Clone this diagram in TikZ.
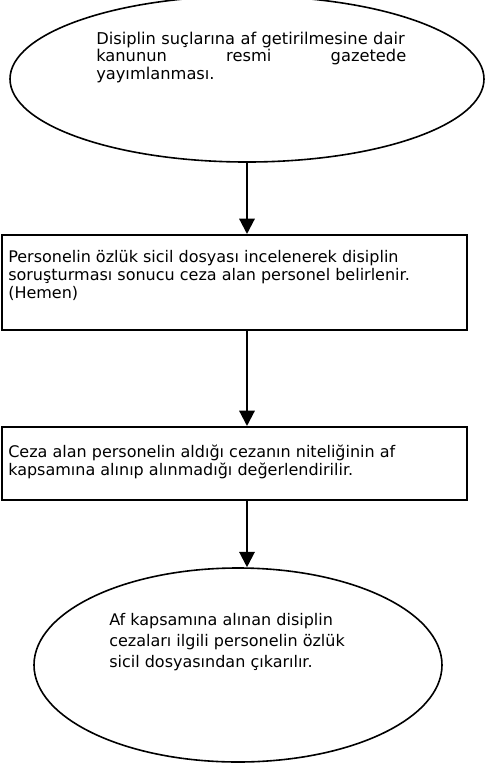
\documentclass[tikz,border=0pt]{standalone}
\usepackage{fontspec}
\setmainfont{DejaVu Sans}
\usetikzlibrary{shapes.geometric,arrows.meta}

\begin{document}
\begin{tikzpicture}[x=0.75pt,y=0.75pt,yscale=-1,xscale=1]
\tikzset{
  oval/.style={draw, ellipse, line width=1.2pt, inner sep=0pt},
  kutu/.style={draw, rectangle, line width=1.3pt, inner sep=0pt, anchor=north west},
  yazi/.style={anchor=north west, inner sep=0.75pt, align=left, font=\fontsize{12}{13.4}\selectfont},
  ok/.style={line width=1.6pt, -{Triangle[width=11.5pt,length=11.5pt]}},
}
\useasboundingbox (0,0) rectangle (485,769);
\clip (0,0) rectangle (485,769);

% Ellipse
\node [oval, minimum width=355.5pt, minimum height=124.5pt] (basla) at (247,79) {};
% Text Node
\node [yazi, text width=232.5pt, font=\fontsize{12.2}{13}\selectfont] (baslayazi) at (95,31) {Disiplin suçlarına af getirilmesine dair\\\makebox[\linewidth][l]{kanunun\hfill resmi\hfill gazetede}\\yayımlanması.};
% Box
\node [kutu, minimum width=348.75pt, minimum height=71.25pt] (sicil) at (1,234) {};
% Text Node
\node [yazi] (sicilyazi) at (7,249) {Personelin özlük sicil dosyası incelenerek disiplin\\soruşturması sonucu ceza alan personel belirlenir.\\(Hemen)};
% Box
\node [kutu, minimum width=348.75pt, minimum height=54.75pt] (kapsam) at (1,426) {};
% Text Node
\node [yazi] (kapsamyazi) at (7,444) {Ceza alan personelin aldığı cezanın niteliğinin af\\kapsamına alınıp alınmadığı değerlendirilir.};
% Ellipse
\node [oval, minimum width=306pt, minimum height=145.5pt] (bitis) at (238,665) {};
% Text Node
\node [yazi, font=\fontsize{12}{15.75}\selectfont] (bitisyazi) at (108,612) {Af kapsamına alınan disiplin\\cezaları ilgili personelin özlük\\sicil dosyasından çıkarılır.};
% Connection
\draw [ok] (basla.south) -- (basla.south |- sicil.north);
% Connection
\draw [ok] (basla.south |- sicil.south) -- (basla.south |- kapsam.north);
% Connection
\draw [ok] (basla.south |- kapsam.south) -- (basla.south |- bitis.north);

\end{tikzpicture}
\end{document}
